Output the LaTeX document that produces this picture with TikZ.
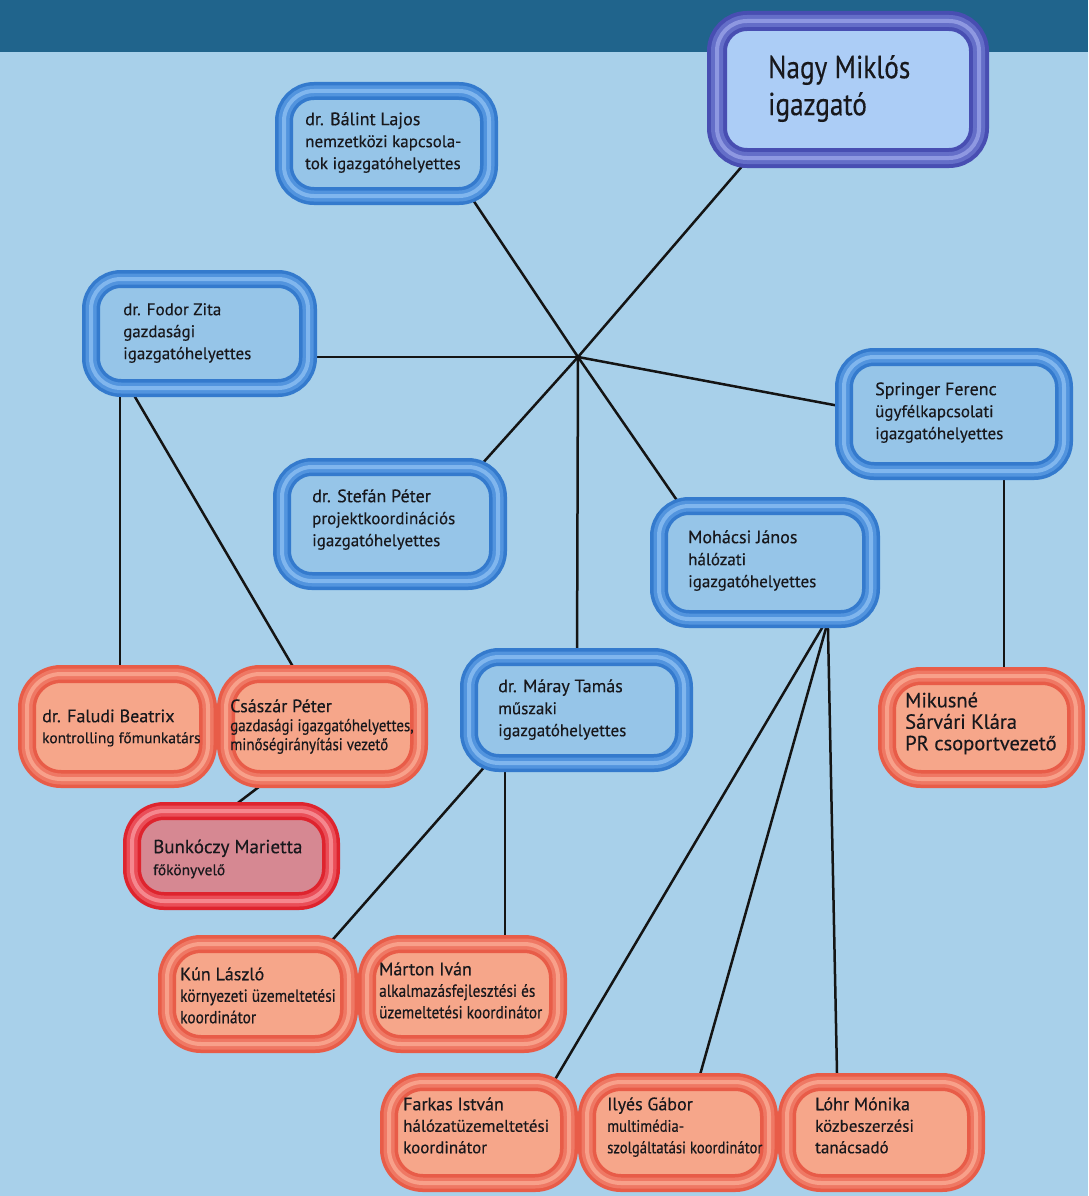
\documentclass[tikz,border=0pt]{standalone}
\usepackage{fontspec}
\setmainfont{PT Sans}[FakeBold=0.35]
\newfontfamily\cond{PT Sans}[FakeStretch=0.88,FakeBold=0.35]
\newfontfamily\chieffont{PT Sans}[FakeStretch=0.85,FakeBold=0.3]
\newcommand\nmA{\fontsize{18}{22}\selectfont}
\newcommand\nmB{\fontsize{18}{21.5}\selectfont}
\definecolor{bgc}{RGB}{168,208,234}
\definecolor{bannerc}{RGB}{32,100,140}
\definecolor{bfill}{RGB}{150,197,232}
\definecolor{bdark}{RGB}{52,122,205}
\definecolor{bmid}{RGB}{82,148,222}
\definecolor{blight}{RGB}{128,182,238}
\definecolor{nfill}{RGB}{172,205,246}
\definecolor{ndark}{RGB}{72,78,178}
\definecolor{nmid}{RGB}{100,110,200}
\definecolor{nlight}{RGB}{142,152,225}
\definecolor{ofill}{RGB}{246,166,138}
\definecolor{odark}{RGB}{232,92,72}
\definecolor{omid}{RGB}{239,120,100}
\definecolor{olight}{RGB}{248,160,138}
\definecolor{rfill}{RGB}{214,136,146}
\definecolor{rdark}{RGB}{222,36,46}
\definecolor{rmid}{RGB}{234,78,88}
\definecolor{rlight}{RGB}{245,135,142}
\definecolor{txtc}{RGB}{24,24,28}
\definecolor{linec}{RGB}{20,20,20}
\pgfdeclarelayer{back}
\pgfdeclarelayer{lines}
\pgfsetlayers{back,lines,main}
\tikzset{
  bluebox/.style={rectangle, inner sep=0pt, rounded corners=30pt, fill=bfill,
    postaction={draw=bdark, line width=18pt},
    postaction={draw=bmid, line width=11pt},
    postaction={draw=blight, line width=4pt}},
  chiefbox/.style={rectangle, inner sep=0pt, rounded corners=30pt, fill=nfill,
    postaction={draw=ndark, line width=20pt},
    postaction={draw=nmid, line width=12pt},
    postaction={draw=nlight, line width=4pt}},
  orangebox/.style={rectangle, inner sep=0pt, rounded corners=34pt, fill=ofill,
    postaction={draw=odark, line width=18pt},
    postaction={draw=omid, line width=11pt},
    postaction={draw=olight, line width=4pt}},
  redbox/.style={rectangle, inner sep=0pt, rounded corners=32pt, fill=rfill,
    postaction={draw=rdark, line width=18pt},
    postaction={draw=rmid, line width=11pt},
    postaction={draw=rlight, line width=4pt}},
  txt/.style={anchor=north west, inner sep=0pt, align=left, text=txtc,
    font=\fontsize{17}{22}\selectfont},
  conn/.style={draw=linec, line width=2.5pt},
}
\begin{document}
\begin{tikzpicture}[x=1pt,y=-1pt]
\begin{pgfonlayer}{back}
\fill[bgc] (0,0) rectangle (1088,1196);
\fill[bannerc] (0,0) rectangle (1088,52);
\end{pgfonlayer}
\useasboundingbox (0,0) rectangle (1088,1196);

% boxes
\node[chiefbox, minimum width=262, minimum height=137] (nagy) at (848,89.5) {};
\node[bluebox, minimum width=205, minimum height=105] (balint) at (386.5,143.5) {};
\node[bluebox, minimum width=217, minimum height=109] (fodor) at (199.5,333.5) {};
\node[bluebox, minimum width=220, minimum height=114] (springer) at (954,414) {};
\node[bluebox, minimum width=216, minimum height=114] (stefan) at (390,524) {};
\node[bluebox, minimum width=212, minimum height=113] (mohacsi) at (765,562.5) {};
\node[bluebox, minimum width=215, minimum height=106] (maray) at (576.5,710) {};
\node[orangebox, minimum width=181, minimum height=105] (faludi) at (117.5,726.5) {};
\node[orangebox, minimum width=193, minimum height=105] (csaszar) at (322.5,726.5) {};
\node[orangebox, minimum width=189, minimum height=103] (mikusne) at (981.5,727.5) {};
\node[redbox, minimum width=199, minimum height=90] (bunkoczy) at (231.5,856) {};
\node[orangebox, minimum width=182, minimum height=100] (kun) at (258,994) {};
\node[orangebox, minimum width=191, minimum height=100] (marton) at (462.5,994) {};
\node[orangebox, minimum width=180, minimum height=101] (farkas) at (479,1132.5) {};
\node[orangebox, minimum width=182, minimum height=101] (ilyes) at (678,1132.5) {};
\node[orangebox, minimum width=189, minimum height=101] (lohr) at (881.5,1132.5) {};

\coordinate (hub) at (578,357);

% connectors
\begin{pgfonlayer}{lines}
\draw[conn] (hub) -- ([shift={(-92,60.5)}]nagy.center);
\draw[conn] (hub) -- ([shift={(76.5,41.5)}]balint.center);
\draw[conn] (hub) -- ([shift={(100,23.5)}]fodor.center);
\draw[conn] (hub) -- ([shift={(-104,-6)}]springer.center);
\draw[conn] (hub) -- ([shift={(82,-49)}]stefan.center);
\draw[conn] (hub) -- ([shift={(0.5,-45)}]maray.center);
\draw[conn] (hub) -- ([shift={(-80,-50.5)}]mohacsi.center);
\draw[conn] ([shift={(-79.5,50)}]fodor.center) -- ([shift={(2.5,-50)}]faludi.center);
\draw[conn] ([shift={(-71.5,51.5)}]fodor.center) -- ([shift={(-21.7,-46.5)}]csaszar.center);
\draw[conn] ([shift={(-48,48.5)}]csaszar.center) -- ([shift={(-9.5,-41)}]bunkoczy.center);
\draw[conn] ([shift={(-86,50)}]maray.center) -- ([shift={(65.6,-44)}]kun.center);
\draw[conn] ([shift={(-71.5,50)}]maray.center) -- ([shift={(42.5,-45)}]marton.center);
\draw[conn] ([shift={(64.7,52.5)}]mohacsi.center) -- ([shift={(71,-44.5)}]farkas.center);
\draw[conn] ([shift={(64.7,52.5)}]mohacsi.center) -- ([shift={(18.3,-44.5)}]ilyes.center);
\draw[conn] ([shift={(62.7,52.5)}]mohacsi.center) -- ([shift={(-44.2,-44.5)}]lohr.center);
\draw[conn] ([shift={(50,55)}]springer.center) -- ([shift={(22.5,-50)}]mikusne.center);
\end{pgfonlayer}

% texts
\node[txt, font=\chieffont\fontsize{32}{37}\selectfont] (nagy-t) at (768,52.1) {\strut Nagy Miklós\\\strut igazgató};
\node[txt] (balint-t) at (305,109.6) {{\nmA\strut dr. Bálint Lajos}\\\strut nemzetközi kapcsola-\\\strut tok igazgatóhelyettes};
\node[txt] (fodor-t) at (123,299.6) {\strut dr. Fodor Zita\\\strut gazdasági\\\strut igazgatóhelyettes};
\node[txt] (springer-t) at (875,379.6) {{\nmA\strut Springer Ferenc}\\\strut ügyfélkapcsolati\\\strut igazgatóhelyettes};
\node[txt] (stefan-t) at (312,486.6) {{\nmA\strut dr. Stefán Péter}\\\strut projektkoordinációs\\\strut igazgatóhelyettes};
\node[txt] (mohacsi-t) at (688,527.6) {{\nmA\strut Mohácsi János}\\\strut hálózati\\\strut igazgatóhelyettes};
\node[txt] (maray-t) at (498,676.6) {{\nmA\strut dr. Máray Tamás}\\\strut műszaki\\\strut igazgatóhelyettes};
\node[txt, font=\fontsize{17}{21}\selectfont] (faludi-t) at (42,707.3) {{\fontsize{18}{21}\selectfont\strut dr. Faludi Beatrix}\\{\fontsize{15.4}{21}\selectfont\strut kontrolling főmunkatárs}};
\node[txt, font=\fontsize{15}{19}\selectfont] (csaszar-t) at (230,698.7) {{\fontsize{18}{19}\selectfont\strut Császár Péter}\\{\cond\fontsize{17}{19}\selectfont\strut gazdasági igazgatóhelyettes,}\\{\cond\fontsize{17}{19}\selectfont\strut minőségirányítási vezető}};
\node[txt, font=\fontsize{20.5}{21.5}\selectfont] (mikusne-t) at (905,692) {\strut Mikusné\\\strut Sárvári Klára\\\strut PR csoportvezető};
\node[txt] (bunkoczy-t) at (153,837.6) {{\fontsize{19}{22}\selectfont\strut Bunkóczy Marietta}\\{\fontsize{15.4}{22}\selectfont\strut főkönyvelő}};
\node[txt, font=\fontsize{17}{21.5}\selectfont] (kun-t) at (180,965) {{\nmB\strut Kún László}\\{\cond\fontsize{17.5}{21.5}\selectfont\strut környezeti üzemeltetési}\\{\cond\fontsize{17.5}{21.5}\selectfont\strut koordinátor}};
\node[txt, font=\fontsize{17}{21.5}\selectfont] (marton-t) at (379,960) {{\nmB\strut Márton Iván}\\{\cond\fontsize{17.4}{21.5}\selectfont\strut alkalmazásfejlesztési és}\\{\cond\fontsize{17.4}{21.5}\selectfont\strut üzemeltetési koordinátor}};
\node[txt, font=\fontsize{17}{21.5}\selectfont] (farkas-t) at (403,1095) {{\nmB\strut Farkas István}\\\strut hálózatüzemeltetési\\\strut koordinátor};
\node[txt, font=\fontsize{17}{21.5}\selectfont] (ilyes-t) at (607,1095) {{\nmB\strut Ilyés Gábor}\\{\cond\fontsize{16.7}{21.5}\selectfont\strut multimédia-}\\{\cond\fontsize{16.7}{21.5}\selectfont\strut szolgáltatási koordinátor}};
\node[txt, font=\fontsize{17}{21.5}\selectfont] (lohr-t) at (815,1095) {{\nmB\strut Lóhr Mónika}\\\strut közbeszerzési\\\strut tanácsadó};
\end{tikzpicture}
\end{document}
